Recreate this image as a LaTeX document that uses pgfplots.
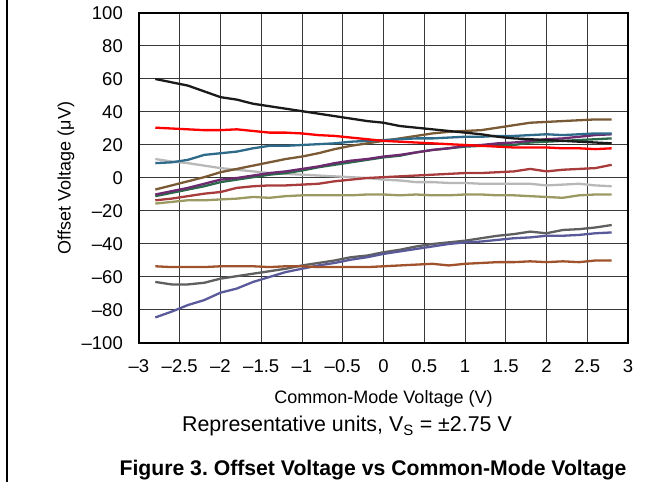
\documentclass[border=0pt]{standalone}
\usepackage{fontspec}
\setmainfont{Liberation Sans}
\usepackage{pgfplots}
\pgfplotsset{compat=1.18}

\definecolor{cBlack}{HTML}{1A1A1A}
\definecolor{cRed}{HTML}{FF0000}
\definecolor{cTeal}{HTML}{2E6A8A}
\definecolor{cBrown}{HTML}{7A5A35}
\definecolor{cPurple}{HTML}{6E2A6E}
\definecolor{cGreen}{HTML}{2A6A4A}
\definecolor{cLGray}{HTML}{B8B8B8}
\definecolor{cBrick}{HTML}{A83C3C}
\definecolor{cOlive}{HTML}{9A9A62}
\definecolor{cSienna}{HTML}{A0522D}
\definecolor{cDGray}{HTML}{5F5F5F}
\definecolor{cSlate}{HTML}{5A5A9A}

\begin{document}
\frenchspacing
\begin{tikzpicture}
\path[use as bounding box] (0,0) rectangle (671bp,482bp);
\draw[line width=1.5bp] (7bp,0) -- (7bp,482bp);
\begin{axis}[
    at={(139bp,139bp)}, anchor=south west,
    scale only axis,
    width=489bp, height=330bp,
    xmin=-3, xmax=3, ymin=-100, ymax=100,
    xtick={-3,-2.5,...,3},
    xticklabels={–3,–2.5,–2,–1.5,–1,–0.5,0,0.5,1,1.5,2,2.5,3},
    ytick={-100,-80,...,100},
    yticklabels={–100,–80,–60,–40,–20,0,20,40,60,80,100},
    major tick length=0pt,
    grid=major,
    grid style={black!78, line width=1bp},
    axis line style={line width=1.8bp},
    tick label style={font=\fontsize{18.5bp}{20bp}\selectfont, inner sep=0pt},
    xticklabel style={anchor=base, yshift=-30bp},
    yticklabel style={anchor=east, xshift=-16bp},
    label style={font=\fontsize{18bp}{20bp}\selectfont},
    xlabel={Common-Mode Voltage (V)},
    xlabel style={at={(axis description cs:0.5,0)}, anchor=base, yshift=-61bp, inner sep=0pt},
    ylabel={Offset Voltage (μV)},
    ylabel style={at={(axis description cs:-0.1493,0.5)}, anchor=center, inner sep=0pt},
    every axis plot/.append style={line width=2.3bp, line join=round, no marks},
]
% dark gray
\addplot[cDGray] coordinates {(-2.8,-63)(-2.6,-64.5)(-2.4,-64.5)(-2.2,-63.5)(-2,-61)(-1.8,-59.5)(-1.6,-58)(-1.4,-56.5)(-1.2,-55)(-1,-53)(-0.8,-51.5)(-0.6,-50)(-0.4,-48)(-0.2,-47)(0,-45)(0.2,-43.5)(0.4,-41.5)(0.6,-40)(0.8,-39)(1,-38)(1.2,-36.5)(1.4,-35)(1.6,-34)(1.8,-32.5)(2,-33.5)(2.2,-31.5)(2.4,-31)(2.6,-30)(2.8,-28.5)};
% slate blue
\addplot[cSlate] coordinates {(-2.8,-84.5)(-2.6,-81)(-2.4,-77)(-2.2,-74)(-2,-69.5)(-1.8,-67)(-1.6,-63)(-1.4,-60)(-1.2,-57)(-1,-55)(-0.8,-53)(-0.6,-51.5)(-0.4,-49.5)(-0.2,-48)(0,-46)(0.2,-44.5)(0.4,-43)(0.6,-41.5)(0.8,-40)(1,-39)(1.2,-38.5)(1.4,-37.5)(1.6,-36.5)(1.8,-36)(2,-35)(2.2,-35)(2.4,-34.5)(2.6,-33.5)(2.8,-33)};
% sienna
\addplot[cSienna] coordinates {(-2.8,-53.5)(-2.6,-54)(-2.4,-54)(-2.2,-54)(-2,-53.5)(-1.8,-53.5)(-1.6,-53.5)(-1.4,-54)(-1.2,-53.5)(-1,-53.5)(-0.8,-54)(-0.6,-54)(-0.4,-54)(-0.2,-54)(0,-53.5)(0.2,-53)(0.4,-52.5)(0.6,-52)(0.8,-53)(1,-52)(1.2,-51.5)(1.4,-51)(1.6,-51)(1.8,-50.5)(2,-51)(2.2,-50.5)(2.4,-51)(2.6,-50)(2.8,-50)};
% olive
\addplot[cOlive] coordinates {(-2.8,-15.5)(-2.6,-14.5)(-2.4,-13.5)(-2.2,-13.5)(-2,-13)(-1.8,-12.5)(-1.6,-11.5)(-1.4,-12)(-1.2,-11)(-1,-10.5)(-0.8,-10.5)(-0.6,-10.5)(-0.4,-10.5)(-0.2,-10)(0,-10)(0.2,-10.5)(0.4,-10)(0.6,-10.5)(0.8,-10.5)(1,-10)(1.2,-10)(1.4,-10.5)(1.6,-10.5)(1.8,-11)(2,-11.5)(2.2,-12)(2.4,-10.5)(2.6,-10)(2.8,-10)};
% light gray
\addplot[cLGray] coordinates {(-2.8,11.5)(-2.6,10)(-2.4,9)(-2.2,7.5)(-2,6)(-1.8,5)(-1.6,4)(-1.4,3)(-1.2,2.5)(-1,2)(-0.8,1.5)(-0.6,1)(-0.4,0.5)(-0.2,0)(0,-1)(0.2,-1.5)(0.4,-2.5)(0.6,-2.5)(0.8,-3)(1,-3)(1.2,-3.5)(1.4,-3.5)(1.6,-3.5)(1.8,-3.5)(2,-4.5)(2.2,-4)(2.4,-3.5)(2.6,-4.5)(2.8,-5)};
% brick red
\addplot[cBrick] coordinates {(-2.8,-13.5)(-2.6,-12.5)(-2.4,-11)(-2.2,-9.5)(-2,-8.5)(-1.8,-6)(-1.6,-5)(-1.4,-4.5)(-1.2,-4.5)(-1,-4)(-0.8,-3.5)(-0.6,-2)(-0.4,-1)(-0.2,0)(0,0.5)(0.2,1)(0.4,1.5)(0.6,2)(0.8,2.5)(1,3)(1.2,3)(1.4,3.5)(1.6,4)(1.8,5.5)(2,4)(2.2,5)(2.4,5.5)(2.6,6)(2.8,8)};
% green
\addplot[cGreen] coordinates {(-2.8,-11)(-2.6,-9)(-2.4,-7)(-2.2,-5)(-2,-2.5)(-1.8,-1)(-1.6,0.5)(-1.4,2)(-1.2,3)(-1,4.5)(-0.8,6.5)(-0.6,8)(-0.4,9.5)(-0.2,11)(0,12.5)(0.2,13.5)(0.4,15.5)(0.6,17)(0.8,18)(1,19)(1.2,19.5)(1.4,19.5)(1.6,20)(1.8,21.5)(2,22)(2.2,22.5)(2.4,23)(2.6,23.5)(2.8,24)};
% purple
\addplot[cPurple] coordinates {(-2.8,-10)(-2.6,-8)(-2.4,-6)(-2.2,-3.5)(-2,-1)(-1.8,0)(-1.6,1.5)(-1.4,3)(-1.2,4)(-1,5.5)(-0.8,7)(-0.6,9)(-0.4,10.5)(-0.2,11.5)(0,13)(0.2,14)(0.4,15.5)(0.6,17)(0.8,18)(1,19.5)(1.2,20)(1.4,21)(1.6,21.5)(1.8,22.5)(2,23.5)(2.2,24)(2.4,25)(2.6,26)(2.8,26.5)};
% brown
\addplot[cBrown] coordinates {(-2.8,-7)(-2.6,-4.5)(-2.4,-2)(-2.2,0.5)(-2,3.5)(-1.8,5.5)(-1.6,7.5)(-1.4,9.5)(-1.2,11.5)(-1,13)(-0.8,15)(-0.6,17.5)(-0.4,19.5)(-0.2,21)(0,22.5)(0.2,24)(0.4,25.5)(0.6,27)(0.8,28)(1,28.5)(1.2,29)(1.4,30.5)(1.6,32)(1.8,33.5)(2,34)(2.2,34.5)(2.4,35)(2.6,35.5)(2.8,35.5)};
% teal
\addplot[cTeal] coordinates {(-2.8,9)(-2.6,9.5)(-2.4,11)(-2.2,14)(-2,15)(-1.8,16)(-1.6,18)(-1.4,19.5)(-1.2,19.5)(-1,20)(-0.8,20.5)(-0.6,21)(-0.4,22)(-0.2,22.5)(0,23)(0.2,23.5)(0.4,24)(0.6,24)(0.8,24.5)(1,25)(1.2,25)(1.4,25.5)(1.6,25.5)(1.8,26)(2,26.5)(2.2,26)(2.4,26.5)(2.6,27)(2.8,27)};
% black
\addplot[cBlack] coordinates {(-2.8,60)(-2.6,58)(-2.4,56)(-2.2,52.5)(-2,49)(-1.8,47.5)(-1.6,45)(-1.4,43.5)(-1.2,42)(-1,40.5)(-0.8,39)(-0.6,37.5)(-0.4,36)(-0.2,34.5)(0,33.5)(0.2,31.5)(0.4,30.5)(0.6,29.5)(0.8,28.5)(1,27.5)(1.2,26.5)(1.4,25)(1.6,24)(1.8,23.5)(2,23)(2.2,22.5)(2.4,22)(2.6,21.5)(2.8,21)};
% red
\addplot[cRed] coordinates {(-2.8,30.5)(-2.6,30)(-2.4,29.5)(-2.2,29)(-2,29)(-1.8,29.5)(-1.6,28.5)(-1.4,27.5)(-1.2,27.5)(-1,27)(-0.8,26)(-0.6,25.5)(-0.4,24.5)(-0.2,23.5)(0,22.5)(0.2,22)(0.4,21.5)(0.6,21)(0.8,20.5)(1,20)(1.2,19.5)(1.4,19)(1.6,18.5)(1.8,18.5)(2,18.5)(2.2,18)(2.4,18)(2.6,17.5)(2.8,18)};
\end{axis}
\node[anchor=base, inner sep=0pt, font=\fontsize{21.4bp}{24bp}\selectfont] at (347bp,50bp) {Representative units, V\textsubscript{S} = ±2.75 V};
\node[anchor=base, inner sep=0pt, font=\fontsize{21.2bp}{24bp}\selectfont\bfseries] at (373bp,7bp) {Figure 3. Offset Voltage vs Common-Mode Voltage};
\end{tikzpicture}
\end{document}
